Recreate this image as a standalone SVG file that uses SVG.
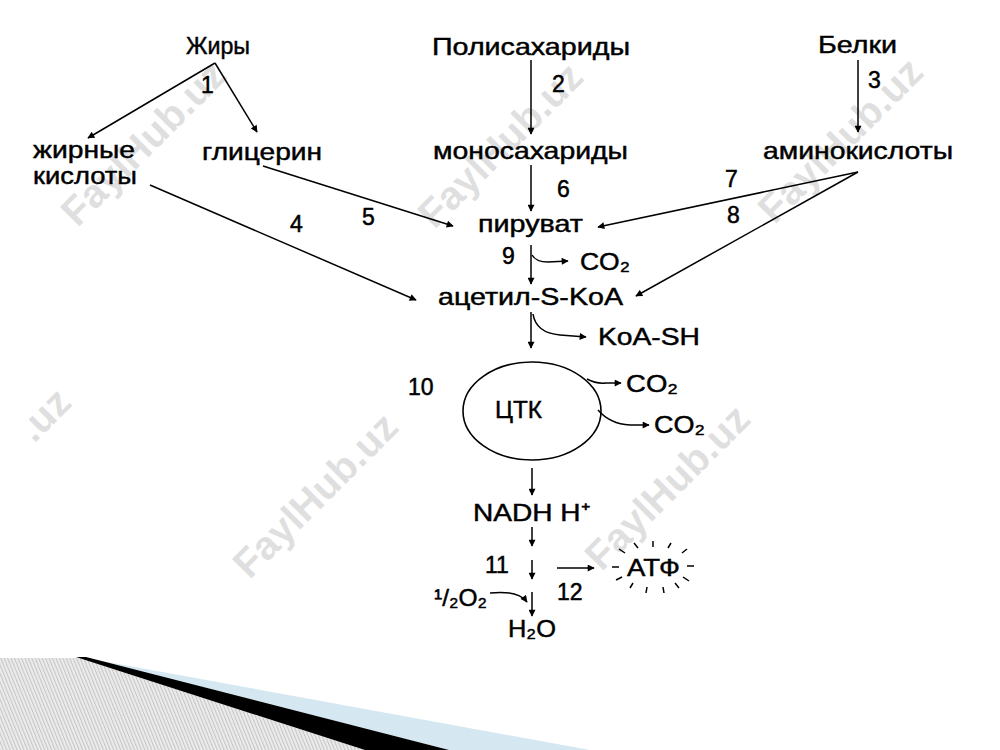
<svg xmlns="http://www.w3.org/2000/svg" width="1000" height="750" viewBox="0 0 1000 750">
<style>
.t{font-family:"Liberation Sans",Arial,sans-serif;font-size:24px;fill:#000;stroke:#000;stroke-width:0.45}
.n{font-family:"Liberation Sans",Arial,sans-serif;font-size:23px;fill:#000;stroke:#000;stroke-width:0.5}
.wm{font-family:"Liberation Sans",Arial,sans-serif;font-size:40px;font-weight:bold;fill:#000;opacity:0.12}
.c{fill:none;stroke:#000;stroke-width:1.5}
.r{stroke:#000;stroke-width:1.5}
</style>
<defs>
<marker id="ah" viewBox="0 0 10 10" refX="9" refY="5" markerWidth="8" markerHeight="7" markerUnits="userSpaceOnUse" orient="auto">
<path d="M0,0 L10,5 L0,10 z" fill="#000"/>
</marker>
<pattern id="hatch" patternUnits="userSpaceOnUse" width="3.2" height="10" patternTransform="rotate(-22)">
<rect width="3.2" height="10" fill="#ebebeb"/>
<rect width="1" height="10" fill="#c4c4c4"/>
</pattern>
</defs>
<rect width="1000" height="750" fill="#fff"/>

<g id="watermarks">
<text class="wm" transform="translate(143,143) rotate(-45)" text-anchor="middle" dy="14">FaylHub.uz</text>
<text class="wm" transform="translate(500,145) rotate(-45)" text-anchor="middle" dy="14">FaylHub.uz</text>
<text class="wm" transform="translate(840,140) rotate(-45)" text-anchor="middle" dy="14">FaylHub.uz</text>
<text class="wm" transform="translate(34,444) rotate(-45)">.uz</text>
<text class="wm" transform="translate(315,495) rotate(-45)" text-anchor="middle" dy="14">FaylHub.uz</text>
<text class="wm" transform="translate(667,487) rotate(-45)" text-anchor="middle" dy="14">FaylHub.uz</text>
</g>

<g id="decoration">
<polygon points="0,658 80,658 365,750 0,750" fill="url(#hatch)"/>
<polygon points="80,657 590,750 449,750" fill="#d5e8f1"/>
<polygon points="76,657 86,657 449,750 365,750" fill="#000"/>
</g>

<g id="connectors">
<line class="c" x1="215" y1="63" x2="88" y2="138" marker-end="url(#ah)"/>
<line class="c" x1="215" y1="63" x2="257" y2="132" marker-end="url(#ah)"/>
<line class="c" x1="531" y1="60" x2="531" y2="134" marker-end="url(#ah)"/>
<line class="c" x1="858" y1="60" x2="858" y2="132" marker-end="url(#ah)"/>
<line class="c" x1="531" y1="165" x2="531" y2="211" marker-end="url(#ah)"/>
<line class="c" x1="263" y1="166" x2="453" y2="226" marker-end="url(#ah)"/>
<line class="c" x1="150" y1="185" x2="416" y2="300" marker-end="url(#ah)"/>
<line class="c" x1="858" y1="172" x2="598" y2="227" marker-end="url(#ah)"/>
<line class="c" x1="858" y1="172" x2="636" y2="296" marker-end="url(#ah)"/>
<line class="c" x1="531" y1="245" x2="531" y2="284" marker-end="url(#ah)"/>
<path class="c" d="M532,255 Q536,262 548,262 L568,261" marker-end="url(#ah)"/>
<line class="c" x1="531" y1="312" x2="531" y2="348" marker-end="url(#ah)"/>
<path class="c" d="M533,314 Q536,333 560,335 L586,337" marker-end="url(#ah)"/>
<path class="c" d="M587,379 Q596,384 606,383 L621,383" marker-end="url(#ah)"/>
<path class="c" d="M598,410 Q610,424 630,425 L649,425" marker-end="url(#ah)"/>
<line class="c" x1="532" y1="468" x2="532" y2="495" marker-end="url(#ah)"/>
<line class="c" x1="532" y1="527" x2="532" y2="546" marker-end="url(#ah)"/>
<line class="c" x1="532" y1="560" x2="532" y2="579" marker-end="url(#ah)"/>
<line class="c" x1="532" y1="592" x2="532" y2="616" marker-end="url(#ah)"/>
<path class="c" d="M490,593 Q518,590 527,602" marker-end="url(#ah)"/>
<line class="c" x1="557" y1="568" x2="594" y2="568" marker-end="url(#ah)"/>
</g>

<g id="n-zhiry"><text class="t" x="186" y="54" textLength="64" lengthAdjust="spacingAndGlyphs">Жиры</text></g>
<g id="n-polisaharidy"><text class="t" x="432" y="55" textLength="198" lengthAdjust="spacingAndGlyphs">Полисахариды</text></g>
<g id="n-belki"><text class="t" x="818" y="53" textLength="79" lengthAdjust="spacingAndGlyphs">Белки</text></g>
<g id="n-zhirnye"><text class="t" x="33" y="158" textLength="102" lengthAdjust="spacingAndGlyphs">жирные</text><text class="t" x="33" y="184" textLength="104" lengthAdjust="spacingAndGlyphs">кислоты</text></g>
<g id="n-glicerin"><text class="t" x="202" y="160" textLength="120" lengthAdjust="spacingAndGlyphs">глицерин</text></g>
<g id="n-monosaharidy"><text class="t" x="433" y="159" textLength="195" lengthAdjust="spacingAndGlyphs">моносахариды</text></g>
<g id="n-aminokisloty"><text class="t" x="763" y="159" textLength="190" lengthAdjust="spacingAndGlyphs">аминокислоты</text></g>
<g id="n-piruvat"><text class="t" x="478" y="232" textLength="105" lengthAdjust="spacingAndGlyphs">пируват</text></g>
<g id="n-co2a"><text class="t" x="580" y="270" textLength="50" lengthAdjust="spacingAndGlyphs">CO₂</text></g>
<g id="n-acetil"><text class="t" x="438" y="305" textLength="185" lengthAdjust="spacingAndGlyphs">ацетил-S-KoA</text></g>
<g id="n-koash"><text class="t" x="598" y="345" textLength="102" lengthAdjust="spacingAndGlyphs">KoA-SH</text></g>
<g id="n-ctk"><ellipse cx="532" cy="411" rx="69" ry="49" fill="none" stroke="#000" stroke-width="1.6"/><text class="t" x="495" y="418" textLength="47" lengthAdjust="spacingAndGlyphs">ЦТК</text></g>
<g id="n-co2b"><text class="t" x="626" y="392" textLength="52" lengthAdjust="spacingAndGlyphs">CO₂</text></g>
<g id="n-co2c"><text class="t" x="654" y="433" textLength="51" lengthAdjust="spacingAndGlyphs">CO₂</text></g>
<g id="n-nadh"><text class="t" x="473" y="521" textLength="117" lengthAdjust="spacingAndGlyphs">NADH H⁺</text></g>
<g id="n-atf">
<text class="t" x="627" y="576" textLength="53" lengthAdjust="spacingAndGlyphs">АТФ</text>
<g class="r">
<line x1="634" y1="543" x2="638" y2="548"/>
<line x1="653" y1="541" x2="653" y2="547"/>
<line x1="671" y1="543" x2="668" y2="548"/>
<line x1="687" y1="549" x2="682" y2="553"/>
<line x1="687" y1="566" x2="694" y2="566"/>
<line x1="683" y1="577" x2="689" y2="581"/>
<line x1="675" y1="583" x2="679" y2="588"/>
<line x1="663" y1="587" x2="664" y2="593"/>
<line x1="647" y1="587" x2="646" y2="593"/>
<line x1="633" y1="583" x2="630" y2="588"/>
<line x1="622" y1="577" x2="616" y2="580"/>
<line x1="612" y1="567" x2="619" y2="567"/>
<line x1="619" y1="549" x2="625" y2="553"/>
</g>
</g>
<g id="n-o2"><text class="t" x="434" y="606" textLength="53" lengthAdjust="spacingAndGlyphs">¹/₂O₂</text></g>
<g id="n-h2o"><text class="t" x="508" y="637" textLength="48" lengthAdjust="spacingAndGlyphs">H₂O</text></g>

<g id="labels">
<text class="n" x="201" y="93">1</text>
<text class="n" x="552" y="92">2</text>
<text class="n" x="868" y="88">3</text>
<text class="n" x="290" y="232">4</text>
<text class="n" x="362" y="225">5</text>
<text class="n" x="557" y="197">6</text>
<text class="n" x="725" y="187">7</text>
<text class="n" x="727" y="223">8</text>
<text class="n" x="502" y="264">9</text>
<text class="n" x="408" y="395">10</text>
<text class="n" x="485" y="573">11</text>
<text class="n" x="557" y="600">12</text>
</g>
</svg>
